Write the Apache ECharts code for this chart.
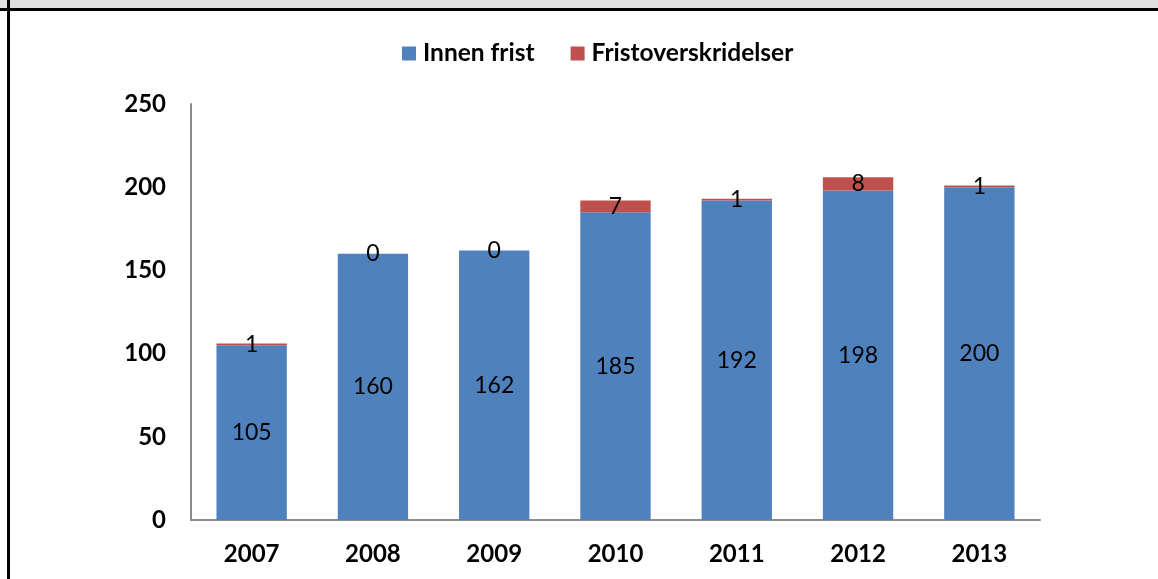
<!DOCTYPE html>
<html>
<head>
<meta charset="utf-8">
<script src="https://cdn.jsdelivr.net/npm/echarts@6/dist/echarts.min.js"></script>
<style>
html,body{margin:0;padding:0;background:#fff;}
#chart{width:1158px;height:579px;}
</style>
</head>
<body>
<div id="chart"></div>
<script>
const categories = ['2007','2008','2009','2010','2011','2012','2013'];
const innenFrist = [105,160,162,185,192,198,200];
const fristover = [1,0,0,7,1,8,1];
const seriesNames = ['Innen frist','Fristoverskridelser'];

const chart = echarts.init(document.getElementById('chart'), null, {renderer:'canvas'});
const FONT = 'Lato, "Open Sans", sans-serif';
const option = {
  backgroundColor:'#fff',
  animation:false,
  graphic:[
    {type:'rect', shape:{x:0,y:0,width:1158,height:8}, style:{fill:'#e0e0e0'}, z:0},
    {type:'line', shape:{x1:0,y1:9.5,x2:1158,y2:9.5}, style:{stroke:'#000',lineWidth:3}},
    {type:'line', shape:{x1:8.5,y1:0,x2:8.5,y2:579}, style:{stroke:'#000',lineWidth:3}}
  ],
  legend:{
    top:36, left:397,
    itemWidth:14, itemHeight:14, itemGap:36,
    icon:'rect',
    textStyle:{fontFamily:FONT, fontWeight:'bold', fontSize:24.5, color:'#000', padding:[0,0,0,2]},
    data:seriesNames
  },
  grid:{left:191, right:118, top:104, bottom:59, containLabel:false},
  xAxis:{
    type:'category', data:categories,
    axisLine:{lineStyle:{color:'#8c8c8c', width:2}},
    axisTick:{show:false},
    axisLabel:{fontFamily:FONT, fontWeight:'bold', fontSize:24, color:'#000', margin:22}
  },
  yAxis:{
    type:'value', min:0, max:250, interval:50,
    axisLine:{show:true, lineStyle:{color:'#8c8c8c', width:2}},
    axisTick:{show:false},
    splitLine:{show:false},
    axisLabel:{fontFamily:FONT, fontWeight:'bold', fontSize:24, color:'#000', margin:25}
  },
  series:[
    {
      name:seriesNames[0], type:'bar', stack:'a', data:innenFrist,
      barCategoryGap:'42%',
      itemStyle:{color:'#4f81bd'},
      label:{show:true, position:'inside', fontFamily:FONT, fontSize:23, color:'#000'}
    },
    {
      name:seriesNames[1], type:'bar', stack:'a', data:fristover,
      barCategoryGap:'42%',
      itemStyle:{color:'#c0504d'},
      label:{show:true, position:'inside', fontFamily:FONT, fontSize:23, color:'#000'}
    }
  ]
};
chart.setOption(option);
</script>
</body>
</html>
